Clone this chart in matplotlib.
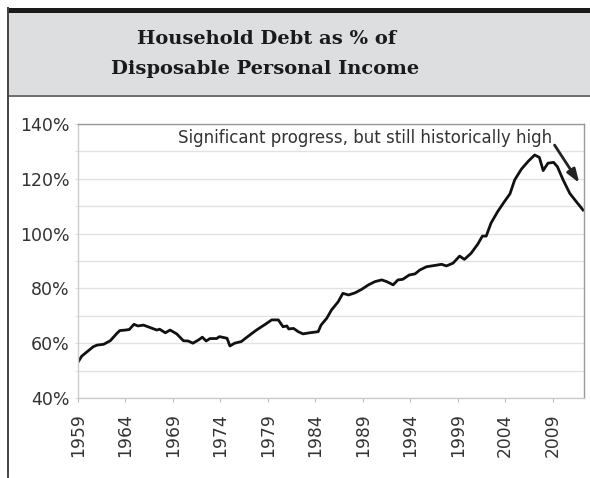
import matplotlib
matplotlib.use("Agg")
import matplotlib.pyplot as plt
from matplotlib.patches import Rectangle
from matplotlib.lines import Line2D
from matplotlib.ticker import MultipleLocator, FuncFormatter

# Data (year, % of disposable personal income)
years = [1959.0, 1959.4, 1960.0, 1960.6, 1961.0, 1961.7, 1962.4, 1963.1, 1963.4, 1964.0,
         1964.4, 1964.9, 1965.3, 1965.9, 1966.6, 1967.3, 1967.6, 1968.2, 1968.7, 1969.4,
         1970.1, 1970.6, 1971.1, 1971.7, 1972.1, 1972.5, 1972.9, 1973.6, 1973.9, 1974.7,
         1975.0, 1975.5, 1976.2, 1976.8, 1977.1, 1977.8, 1978.9, 1979.4, 1980.1, 1980.6,
         1981.0, 1981.2, 1981.7, 1982.2, 1982.7, 1983.4, 1984.3, 1984.6, 1985.2, 1985.7,
         1986.4, 1986.9, 1987.5, 1988.2, 1988.9, 1989.6, 1990.3, 1991.0, 1991.5, 1992.2,
         1992.7, 1993.2, 1993.9, 1994.5, 1995.0, 1995.7, 1996.8, 1997.3, 1997.8, 1998.5,
         1999.2, 1999.7, 2000.4, 2001.1, 2001.6, 2002.0, 2002.5, 2003.2, 2003.9, 2004.5,
         2005.0, 2005.7, 2006.4, 2007.1, 2007.6, 2008.0, 2008.5, 2009.1, 2009.5, 2010.1,
         2010.8, 2011.5, 2012.2]
debt_pct = [53.1, 55.3, 57.0, 58.7, 59.3, 59.6, 60.9, 63.6, 64.6, 64.8,
            65.0, 66.9, 66.3, 66.6, 65.7, 64.8, 65.1, 63.8, 64.8, 63.4,
            60.9, 60.8, 60.0, 61.2, 62.2, 60.8, 61.7, 61.7, 62.4, 61.8,
            59.0, 60.0, 60.6, 62.2, 63.0, 64.8, 67.3, 68.5, 68.5, 66.0,
            66.3, 65.2, 65.4, 64.2, 63.4, 63.8, 64.2, 66.6, 69.1, 72.1,
            75.1, 78.2, 77.6, 78.4, 79.7, 81.3, 82.5, 83.1, 82.5, 81.3,
            83.1, 83.3, 84.9, 85.3, 86.7, 87.9, 88.5, 88.8, 88.2, 89.2,
            91.8, 90.6, 92.8, 96.1, 99.1, 99.1, 103.8, 108.0, 111.6, 114.5,
            119.6, 123.5, 126.3, 128.7, 127.8, 123.0, 125.7, 126.0, 124.4, 119.6,
            114.7, 111.6, 108.6]

x_ticks = [1959, 1964, 1969, 1974, 1979, 1984, 1989, 1994, 1999, 2004, 2009]
y_ticks = [40, 60, 80, 100, 120, 140]
title_lines = ["Household Debt as % of", "Disposable Personal Income"]
note = "Significant progress, but still historically high"

W, H = 590, 478
fig = plt.figure(figsize=(W / 100, H / 100), dpi=100)
fig.patch.set_facecolor("white")

def fx(px):
    return px / W

def fy(py):
    return 1 - py / H

# Header box
fig.patches.append(Rectangle((fx(8), fy(95)), fx(590) - fx(8), fy(13) - fy(95),
                             transform=fig.transFigure, facecolor="#dcdee0",
                             edgecolor="none", zorder=0))
fig.patches.append(Rectangle((fx(7), fy(13)), fx(590) - fx(7), fy(8) - fy(13),
                             transform=fig.transFigure, facecolor="#1a1a1a",
                             edgecolor="none", zorder=1))
fig.lines.append(Line2D([fx(8), fx(590)], [fy(95.5), fy(95.5)], transform=fig.transFigure,
                        color="#555555", linewidth=1.2))
fig.lines.append(Line2D([fx(8), fx(8)], [fy(8), fy(477)], transform=fig.transFigure,
                        color="#444444", linewidth=1.4))

fig.text(fx(267), fy(38.5), title_lines[0], ha="center", va="center",
         family="DejaVu Serif", weight="bold", fontsize=14, color="#1a1a1a")
fig.text(fx(265), fy(69.5), title_lines[1], ha="center", va="center",
         family="DejaVu Serif", weight="bold", fontsize=14, color="#1a1a1a")

ax = fig.add_axes([fx(78), fy(398), fx(584) - fx(78), fy(124) - fy(398)])
ax.plot(years, debt_pct, color="#111111", linewidth=2.0, solid_joinstyle="round")

ax.set_xlim(1959, 2012.3)
ax.set_ylim(40, 140)
ax.set_xticks(x_ticks)
ax.set_xticklabels([str(y) for y in x_ticks], rotation=90)
ax.set_yticks(y_ticks)
ax.yaxis.set_minor_locator(MultipleLocator(10))
ax.yaxis.set_major_formatter(FuncFormatter(lambda v, p: f"{int(v)}%"))
ax.grid(True, which="both", axis="y", color="#e2e2e2", linewidth=1.0)
ax.set_axisbelow(True)
ax.tick_params(axis="x", length=3, color="#bbbbbb", labelsize=12.3, labelcolor="#333333", pad=8)
ax.tick_params(axis="y", which="both", length=2, color="#dddddd", labelsize=12.5,
               labelcolor="#333333", pad=3.8)
for s in ["left", "bottom"]:
    ax.spines[s].set_color("#cccccc")
for s in ["top", "right"]:
    ax.spines[s].set_color("#999999")
for s in ax.spines.values():
    s.set_linewidth(1.0)

ax.text(2008.9, 135.0, note, ha="right", va="center", fontsize=12, color="#333333",
        family="DejaVu Sans")
ax.annotate("", xy=(2011.8, 118.5), xytext=(2009.2, 132.3),
            arrowprops=dict(arrowstyle="-|>,head_length=0.8,head_width=0.28",
                            color="#222222", linewidth=2.0, shrinkA=0, shrinkB=0))

fig.savefig("out.png", dpi=100)
